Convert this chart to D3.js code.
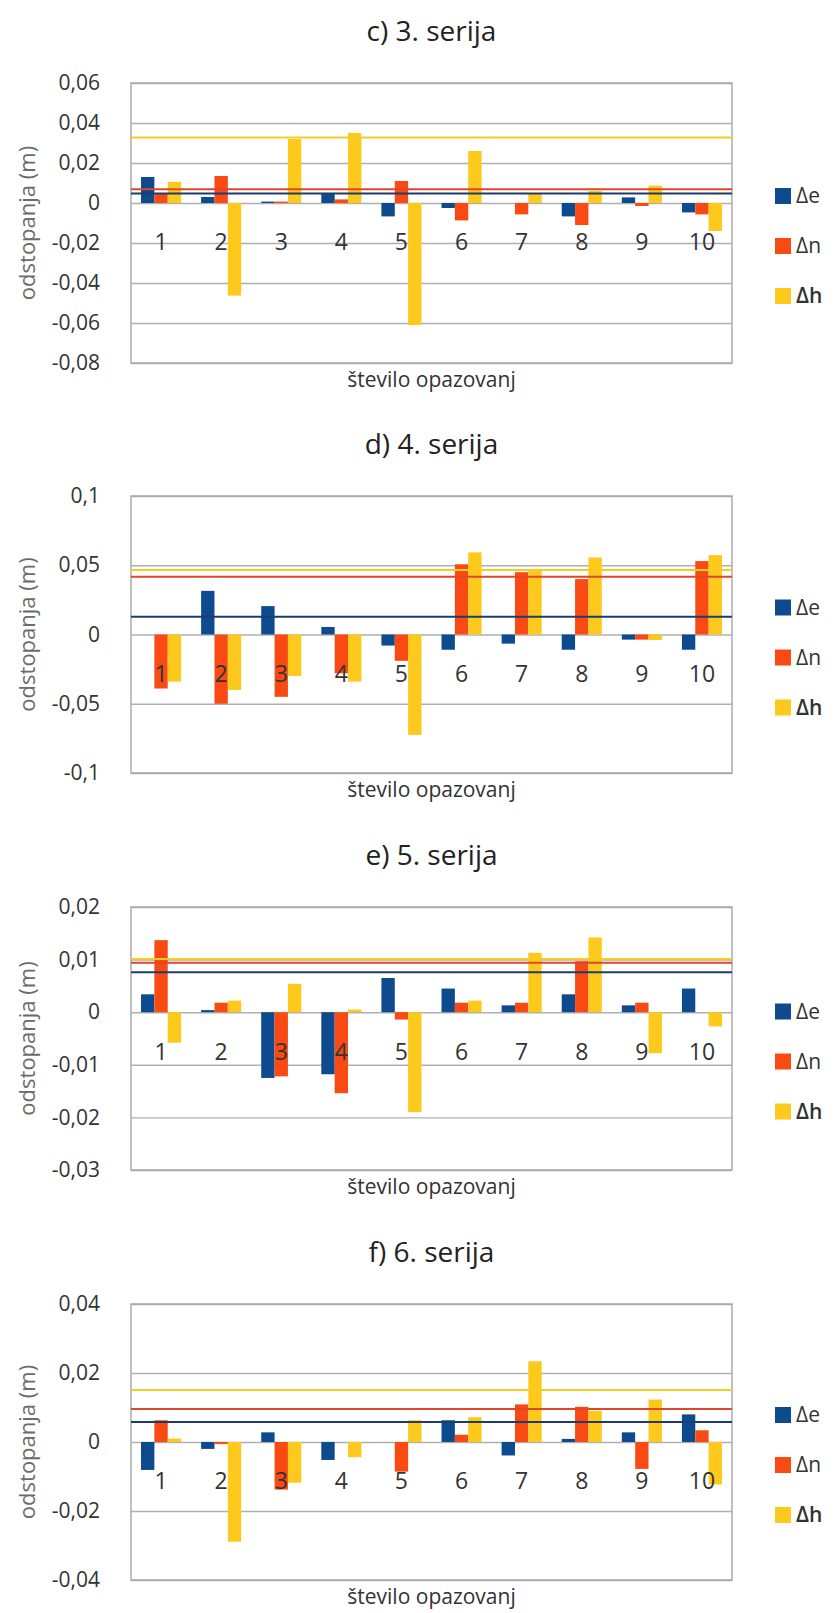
<!DOCTYPE html>
<html>
<head>
<meta charset="utf-8">
<script src="https://cdn.jsdelivr.net/npm/d3@7"></script>
<style>
  body { margin: 0; background: #ffffff; }
  svg { display: block; font-family: "Open Sans", sans-serif; }
</style>
</head>
<body>
<svg id="chart" width="837" height="1613"></svg>
<script>
// data
const categories = ["1", "2", "3", "4", "5", "6", "7", "8", "9", "10"];
const seriesNames = ["Δe", "Δn", "Δh"];
const titles = ["c) 3. serija", "d) 4. serija", "e) 5. serija", "f) 6. serija"];

const ticks3 = [0.06, 0.04, 0.02, 0, -0.02, -0.04, -0.06, -0.08];
const de3 = [0.013, 0.003, 0.0007, 0.0047, -0.0067, -0.0025, 0, -0.0067, 0.0028, -0.0047];
const dn3 = [0.005, 0.0135, 0.0007, 0.0018, 0.011, -0.0087, -0.0057, -0.011, -0.0015, -0.0057];
const dh3 = [0.0106, -0.0463, 0.032, 0.035, -0.061, 0.026, 0.005, 0.006, 0.0087, -0.014];
const mean3 = [0.0048, 0.0069, 0.0328];

const ticks4 = [0.1, 0.05, 0, -0.05, -0.1];
const de4 = [0, 0.0315, 0.0205, 0.0054, -0.008, -0.011, -0.0066, -0.011, -0.0037, -0.011];
const dn4 = [-0.039, -0.05, -0.045, -0.028, -0.019, 0.0507, 0.045, 0.04, -0.0037, 0.053];
const dh4 = [-0.034, -0.04, -0.03, -0.034, -0.0725, 0.0593, 0.047, 0.0556, -0.004, 0.0573];
const mean4 = [0.0129, 0.0417, 0.0466];

const ticks5 = [0.02, 0.01, 0, -0.01, -0.02, -0.03];
const de5 = [0.0034, 0.0004, -0.0125, -0.0118, 0.0065, 0.0045, 0.0013, 0.0034, 0.0013, 0.0045];
const dn5 = [0.0137, 0.0018, -0.0122, -0.0154, -0.0014, 0.0018, 0.0018, 0.0097, 0.0018, 0];
const dh5 = [-0.0058, 0.0022, 0.0054, 0.0005, -0.019, 0.0022, 0.0113, 0.0142, -0.0078, -0.0027];
const mean5 = [0.0076, 0.0094, 0.0101];

const ticks6 = [0.04, 0.02, 0, -0.02, -0.04];
const de6 = [-0.0081, -0.002, 0.0028, -0.0052, 0, 0.0063, -0.0039, 0.0009, 0.0028, 0.008];
const dn6 = [0.0063, -0.0006, -0.0138, 0, -0.0086, 0.0021, 0.0109, 0.0102, -0.0078, 0.0034];
const dh6 = [0.001, -0.0289, -0.0118, -0.0044, 0.0063, 0.0072, 0.0234, 0.009, 0.0123, -0.0123];
const mean6 = [0.0058, 0.0096, 0.0151];

const barColors = ["#0e4a8e", "#fa4a14", "#fcc91c"];
const lineColors = ["#1b3d6d", "#e0462a", "#f5cc22"];

const fmt = d3.formatLocale({
  decimal: ",", thousands: ".", grouping: [3], currency: ["", ""], minus: "-"
}).format("~g");

const svg = d3.select("#chart");

const panels = [
  { title: titles[0], ticks: ticks3, series: [de3, dn3, dh3], means: mean3, top: 83, bottom: 363 },
  { title: titles[1], ticks: ticks4, series: [de4, dn4, dh4], means: mean4, top: 496, bottom: 773 },
  { title: titles[2], ticks: ticks5, series: [de5, dn5, dh5], means: mean5, top: 907, bottom: 1170 },
  { title: titles[3], ticks: ticks6, series: [de6, dn6, dh6], means: mean6, top: 1304, bottom: 1580 },
];

const left = 131, right = 732;

function drawPanel(p) {
  const g = svg.append("g");

  const y = d3.scaleLinear()
    .domain([d3.min(p.ticks), d3.max(p.ticks)])
    .range([p.bottom, p.top]);

  const x0 = d3.scaleBand()
    .domain(categories)
    .range([left, right])
    .paddingInner(1 / 3)
    .paddingOuter(1 / 6);

  const x1 = d3.scaleBand()
    .domain(seriesNames)
    .range([0, x0.bandwidth()]);

  // title
  g.append("text")
    .attr("x", (left + right) / 2)
    .attr("y", p.top - 52)
    .attr("text-anchor", "middle")
    .attr("dy", "0.35em")
    .style("font-size", "28px")
    .style("fill", "#222")
    .text(p.title);

  // gridlines
  g.append("g")
    .attr("transform", `translate(${left},0)`)
    .call(d3.axisLeft(y).tickValues(p.ticks).tickSize(-(right - left)).tickFormat(""))
    .call((s) => s.select(".domain").remove())
    .call((s) => s.selectAll("line").attr("stroke", "#b0b0b0").attr("stroke-width", 1.4));

  // frame
  g.append("rect")
    .attr("x", left)
    .attr("y", p.top)
    .attr("width", right - left)
    .attr("height", p.bottom - p.top)
    .attr("fill", "none")
    .attr("stroke", "#a6a6a6")
    .attr("stroke-width", 1.4);

  // y tick labels
  g.append("g")
    .attr("transform", `translate(${left},0)`)
    .call(d3.axisLeft(y).tickValues(p.ticks).tickSize(0).tickPadding(31).tickFormat(fmt))
    .call((s) => s.select(".domain").remove())
    .call((s) => s.selectAll("text")
      .style("font-family", "Open Sans, sans-serif")
      .style("font-size", "21px")
      .attr("fill", "#333"));

  // bars
  const groups = g.selectAll("g.cat")
    .data(categories)
    .enter()
    .append("g")
    .attr("class", "cat")
    .attr("transform", (d) => `translate(${x0(d)},0)`);

  groups.selectAll("rect")
    .data((d, i) => seriesNames.map((s, k) => ({ key: s, k: k, v: p.series[k][i] })))
    .enter()
    .append("rect")
    .attr("x", (d) => x1(d.key))
    .attr("y", (d) => y(Math.max(0, d.v)))
    .attr("width", x1.bandwidth())
    .attr("height", (d) => Math.abs(y(d.v) - y(0)))
    .attr("fill", (d) => barColors[d.k]);

  // mean lines
  g.selectAll("line.mean")
    .data(p.means)
    .enter()
    .append("line")
    .attr("class", "mean")
    .attr("x1", left)
    .attr("x2", right)
    .attr("y1", (d) => y(d))
    .attr("y2", (d) => y(d))
    .attr("stroke", (d, i) => lineColors[i])
    .attr("stroke-width", 2);

  // category labels next to the zero line
  g.append("g")
    .attr("transform", `translate(0,${y(0)})`)
    .call(d3.axisBottom(x0).tickSize(0).tickPadding(31))
    .call((s) => s.select(".domain").remove())
    .call((s) => s.selectAll("text")
      .style("font-family", "Open Sans, sans-serif")
      .style("font-size", "23px")
      .attr("fill", "#333"));

  // axis titles
  g.append("text")
    .attr("x", (left + right) / 2)
    .attr("y", p.bottom + 17)
    .attr("dy", "0.35em")
    .attr("text-anchor", "middle")
    .style("font-size", "21px")
    .style("fill", "#333")
    .text("število opazovanj");

  g.append("text")
    .attr("transform", `translate(27,${(p.top + p.bottom) / 2}) rotate(-90)`)
    .attr("dy", "0.35em")
    .attr("text-anchor", "middle")
    .style("font-size", "22px")
    .style("fill", "#6b6b6b")
    .text("odstopanja (m)");

  // legend
  const legendMid = (p.top + p.bottom) / 2 + 23;
  const legend = g.selectAll("g.legend")
    .data(seriesNames)
    .enter()
    .append("g")
    .attr("class", "legend")
    .attr("transform", (d, i) => `translate(775,${legendMid + (i - 1) * 50})`);

  legend.append("rect")
    .attr("x", 0)
    .attr("y", -8)
    .attr("width", 16)
    .attr("height", 16)
    .attr("fill", (d, i) => barColors[i]);

  legend.append("text")
    .attr("x", 21)
    .attr("dy", "0.35em")
    .style("font-size", "21px")
    .style("fill", "#333")
    .style("font-weight", (d, i) => (i === 2 ? "600" : "400"))
    .text((d) => d);
}

panels.forEach(drawPanel);
</script>
</body>
</html>
